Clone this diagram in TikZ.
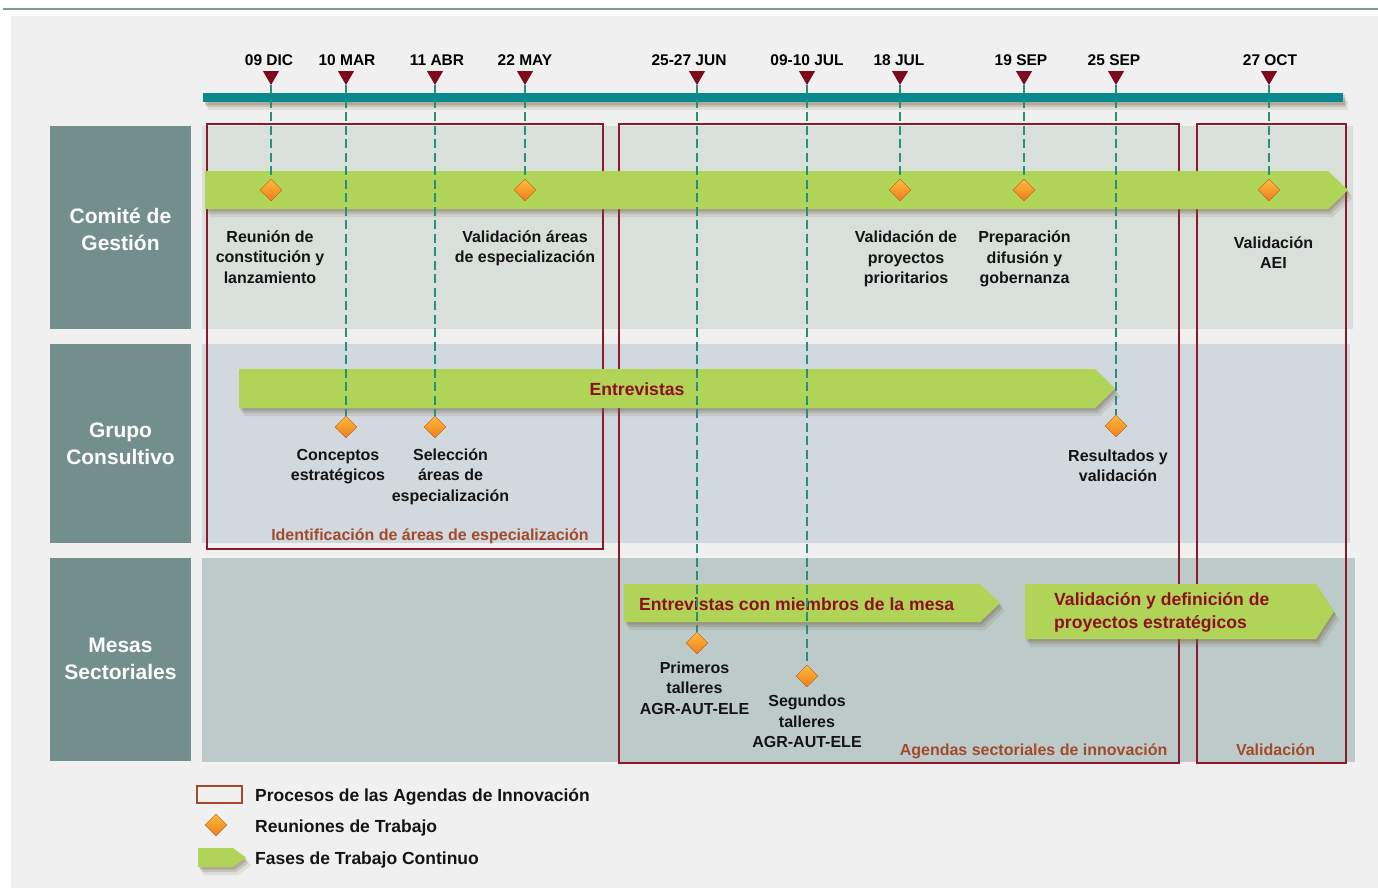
\documentclass[tikz,border=0pt]{standalone}
\usepackage{fontspec}
\setmainfont{Liberation Sans}
\usepackage{xcolor}
\usetikzlibrary{positioning,shapes.geometric,shadows}

\definecolor{fondo}{RGB}{240,240,240}
\definecolor{lineatitulo}{RGB}{122,156,152}
\definecolor{cabecera}{RGB}{114,143,142}
\definecolor{banda1}{RGB}{217,223,219}
\definecolor{banda2}{RGB}{209,216,222}
\definecolor{banda3}{RGB}{188,203,202}
\definecolor{eje}{RGB}{8,137,141}
\definecolor{granate}{RGB}{126,11,29}
\definecolor{guiaverde}{RGB}{40,144,122}
\definecolor{verdefase}{RGB}{176,212,88}
\definecolor{proceso}{RGB}{140,26,44}
\definecolor{teja}{RGB}{162,74,43}
\definecolor{textofase}{RGB}{142,16,32}
\definecolor{naranja1}{RGB}{253,188,62}
\definecolor{naranja2}{RGB}{240,124,28}
\definecolor{sombra}{RGB}{110,92,62}

\tikzset{
    SOM1/.style ={general shadow={shadow xshift=5pt, shadow yshift=-8pt, fill=sombra, opacity=.12},
                  general shadow={shadow xshift=3pt, shadow yshift=-5pt, fill=sombra, opacity=.2},
                  general shadow={shadow xshift=1.5pt, shadow yshift=-2.5pt, fill=sombra, opacity=.25}},
    CAB1/.style ={rectangle, minimum width = 141pt, minimum height = 203pt, fill=cabecera},
    CAT1/.style ={text=white, font=\bfseries\fontsize{21}{27}\selectfont, align=center, inner sep=0pt},
    FEC1/.style ={font=\bfseries\fontsize{15.5}{18}\selectfont, inner sep=0pt},
    TRI1/.style ={regular polygon, regular polygon sides=3, shape border rotate=180, minimum size=18.5pt, inner sep=0pt, fill=granate},
    ROM1/.style ={diamond, minimum width=22pt, minimum height=22pt, inner sep=0pt, top color=naranja1, bottom color=naranja2, draw=naranja2!75!black, line width=0.4pt},
    GUI1/.style ={draw=guiaverde, line width=1.3pt, dash pattern=on 9pt off 4.5pt},
    ETQ1/.style ={font=\bfseries\fontsize{16}{20.5}\selectfont, align=center, inner sep=0pt, anchor=north, text=black!92, execute at begin node=\strut},
    PRO1/.style ={draw=proceso, line width=1.3pt},
    PRT1/.style ={font=\bfseries\fontsize{16}{20}\selectfont, text=teja, anchor=base, inner sep=0pt},
    FAS1/.style ={fill=verdefase, SOM1},
    TFA1/.style ={font=\bfseries\fontsize{17.6}{22.4}\selectfont, text=textofase, inner sep=0pt},
    LEY1/.style ={font=\bfseries\fontsize{17.5}{20}\selectfont, anchor=base west, inner sep=0pt, text=black!92}
}

% barra de fase: x inicio, x fin rectangulo, y arriba, y abajo, x punta
\newcommand{\barrafase}[5]{%
    \fill[FAS1] (#1,#3) -- (#2,#3) -- (#5,{(#3+#4)/2}) -- (#2,#4) -- (#1,#4) -- cycle;}

\begin{document}
\begin{tikzpicture}[x=1pt,y=-1pt]
        \useasboundingbox (0,0) rectangle (1378,888);
        \fill[white] (0,0) rectangle (1378,888);
        \draw[lineatitulo, line width=2pt] (3,9) -- (1378,9);
        \fill[fondo] (11,16) rectangle (1378,888);
        % bandas
        \fill[banda1] (202,126) rectangle (1353,329);
        \fill[banda2] (202,344) rectangle (1350,543);
        \fill[banda3] (202,558) rectangle (1355,762);
        \node[CAB1] (g1) at (120.5,227.5) {};
        \node[CAB1, minimum height=199pt] (g2) at (120.5,443.5) {};
        \node[CAB1] (g3) at (120.5,659.5) {};
        \node[CAT1] (c1) at ([yshift=-1.5pt]g1.center) {Comité de\\Gestión};
        \node[CAT1] (c2) at (g2.center) {Grupo\\Consultivo};
        \node[CAT1] (c3) at ([yshift=1pt]g3.center) {Mesas\\Sectoriales};
        % procesos
        \draw[PRO1] (207,124) rectangle (603,549);
        \draw[PRO1] (619,124) rectangle (1179,763);
        \draw[PRO1] (1197,124) rectangle (1346,763);
        \node[PRT1] (p1) at (430,540) {Identificación de áreas de especialización};
        \node[PRT1] (p2) at (1033.6,755) {Agendas sectoriales de innovación};
        \node[PRT1] (p3) at (1275.6,755) {Validación};
        % eje
        \fill[eje, SOM1] (203,93) rectangle (1343,102.5);
        % fases
        \barrafase{205}{1328}{171}{209}{1348}
        \barrafase{239}{1095}{369}{408}{1115}
        \barrafase{624}{980}{584}{622}{1000}
        \barrafase{1025}{1316}{584}{639}{1334}
        \node[TFA1, anchor=base] (e1) at (637,395.5) {Entrevistas};
        \node[TFA1, anchor=base west] (e2) at (639,610) {Entrevistas con miembros de la mesa};
        \node[TFA1, anchor=north west, align=left, execute at begin node=\strut] (e3) at (1054,592.8) {Validación y definición de\\proyectos estratégicos};
        % fechas
        \foreach \x/\f/\n/\dx in {271/09 DIC/1/-2, 346/10 MAR/2/1, 435/11 ABR/3/2, 525/22 MAY/4/0, 697/25-27 JUN/5/-8,
                807/09-10 JUL/6/0, 900/18 JUL/7/-1, 1024/19 SEP/8/-3, 1116/25 SEP/9/-2, 1269/27 OCT/10/1}{
            \node[TRI1] (t\n) at (\x,75.8) {};
            \node[FEC1, above=5pt of t\n, xshift=\dx pt] (f\n) {\f};
        }
        % reuniones
        \foreach \x/\y/\n in {271/190/1, 346/427/2, 435/427/3, 525/190/4, 697/643/5,
                807/676/6, 900/190/7, 1024/190/8, 1116/426/9, 1269/190/10}
            \node[ROM1] (m\n) at (\x,\y) {};
        \foreach \n in {1,...,10}
            \draw[GUI1] (t\n.corner 1) -- (m\n.north);
        % etiquetas
        \node[ETQ1] (l1) at (270,230.5) {Reunión de\\constitución y\\lanzamiento};
        \node[ETQ1] (l4) at (525,230.5) {Validación áreas\\de especialización};
        \node[ETQ1] (l7) at (906,230.8) {Validación de\\proyectos\\prioritarios};
        \node[ETQ1] (l8) at (1024.5,230.8) {Preparación\\difusión y\\gobernanza};
        \node[ETQ1] (l10) at (1273.5,236.3) {Validación\\AEI};
        \node[ETQ1] (l2) at (338,449) {Conceptos\\estratégicos};
        \node[ETQ1] (l3) at (450.5,448.3) {Selección\\áreas de\\especialización};
        \node[ETQ1] (l9) at (1118,449.5) {Resultados y\\validación};
        \node[ETQ1] (l5) at (694.5,661.3) {Primeros\\talleres\\AGR-AUT-ELE};
        \node[ETQ1] (l6) at (807,695) {Segundos\\talleres\\AGR-AUT-ELE};
        % leyenda
        \node[draw=teja, line width=1.6pt, minimum width=45pt, minimum height=17pt, inner sep=0pt] (k1) at (219.5,794.5) {};
        \node[ROM1] (k2) at (216,825) {};
        \barrafase{198}{233}{848}{867}{246}
        \node[LEY1] (k4) at (255,801.7) {Procesos de las Agendas de Innovación};
        \node[LEY1] (k5) at (255,832.7) {Reuniones de Trabajo};
        \node[LEY1] (k6) at (255,864.3) {Fases de Trabajo Continuo};
\end{tikzpicture}
\end{document}
